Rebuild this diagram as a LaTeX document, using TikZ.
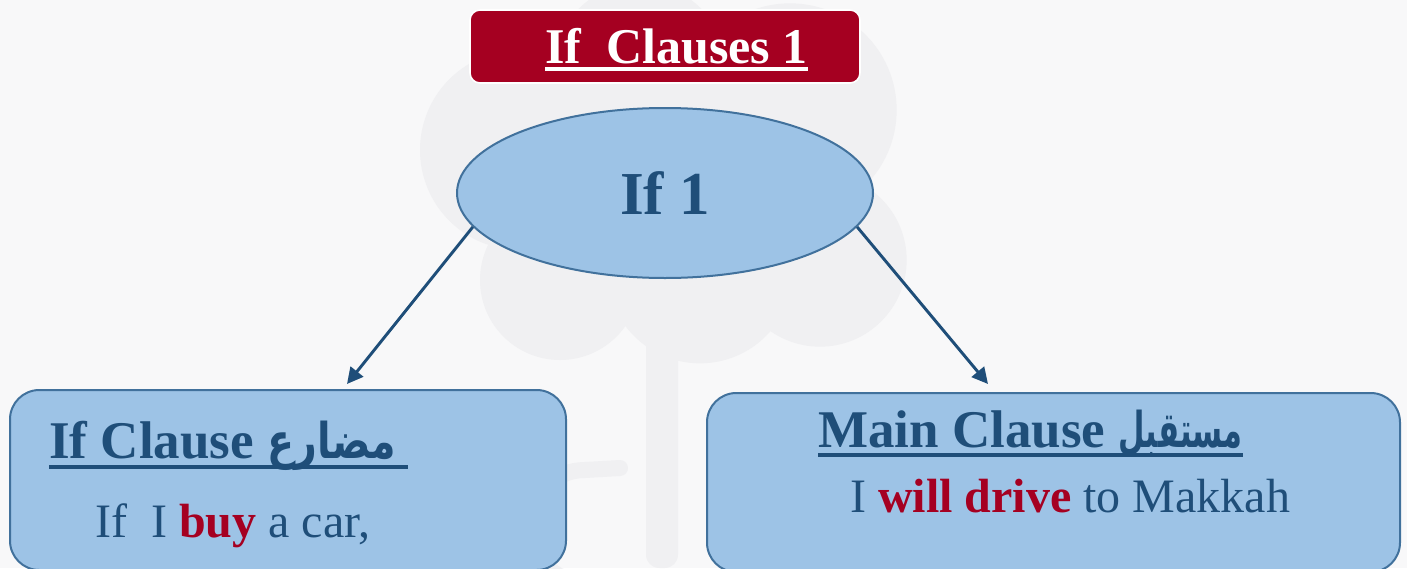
\documentclass[tikz,border=0pt]{standalone}
\usepackage{fontspec}
\usepackage{graphicx}
\setmainfont{Liberation Serif}
\newfontfamily\arabicfont[Script=Arabic]{DejaVu Sans}
\TeXXeTstate=1
\usetikzlibrary{arrows.meta,shapes.geometric}
\definecolor{bgc}{HTML}{F8F8F9}
\definecolor{wm}{HTML}{F0F0F2}
\definecolor{dblue}{HTML}{1F4E79}
\definecolor{dred}{HTML}{A50021}
\definecolor{lblue}{HTML}{9DC3E6}
\definecolor{bblue}{HTML}{41719C}
\begin{document}
\begin{tikzpicture}[x=0.75pt,y=-0.75pt,
  titlebox/.style={draw=white, line width=1.2pt, fill=dred, rounded corners=7.5pt,
    minimum width=292.5pt, minimum height=54.75pt, inner sep=0pt},
  oval/.style={ellipse, draw=bblue, line width=1.5pt, fill=lblue,
    minimum width=312pt, minimum height=127.5pt, inner sep=0pt,
    text=dblue, font=\fontsize{45.75}{50}\selectfont\bfseries},
  clausebox/.style={draw=bblue, line width=1.5pt, fill=lblue, rounded corners=22pt, inner sep=0pt},
  txt/.style={inner sep=0pt, anchor=base west, text=dblue},
  aratxt/.style={inner sep=0pt, anchor=base east, text=dblue, font=\fontsize{37}{40}\selectfont\bfseries},
  headfont/.style={font=\fontsize{39.75}{44}\selectfont\bfseries},
  bodyfont/.style={font=\fontsize{36}{40}\selectfont},
  uline/.style={line width=3pt},
  arr/.style={draw=dblue, line width=2.2pt, -{Triangle[length=12pt,width=12pt]}}
]
\useasboundingbox (0,0) rectangle (1407,568);
\clip (0,0) rectangle (1407,568);
\fill[bgc] (0,0) rectangle (1407,568);
% faint watermark
\begin{scope}[wm]
  \fill (520,150) circle[radius=75pt];
  \fill (640,70) circle[radius=65pt];
  \fill (790,110) circle[radius=80pt];
  \fill (820,260) circle[radius=65pt];
  \fill (560,280) circle[radius=60pt];
  \fill (700,270) circle[radius=70pt];
  \fill[rounded corners=10pt] (646,300) rectangle (678,568);
  \draw[line width=12pt, line cap=round] (620,468) -- (585,470) arc[start angle=90, end angle=270, radius=42pt] -- (625,582);
\end{scope}
% title
\node[titlebox] (title) at (665,46.5) {};
\node[inner sep=0pt, anchor=base west, text=white, font=\fontsize{37.5}{40}\selectfont\bfseries] (titletext) at (545,63) {If\ \ Clauses 1};
\draw[white, uline] (545,68.5) -- (808,68.5);
% central ellipse
\node[oval] (e) at (665,193) {If 1};
% clause boxes
\node[clausebox, minimum width=417pt, minimum height=135pt] (lbox) at (288,480) {};
\node[clausebox, minimum width=519.75pt, minimum height=134.25pt] (rbox) at (1053.5,482.5) {};
% left box texts
\node[txt, headfont] (lhead) at (49,458) {If Clause};
\node[aratxt] (lara) at (396,458) {\resizebox{96pt}{\height}{\arabicfont\beginR مضارع\endR}};
\draw[dblue, uline] (49,467) -- (408,467);
\node[txt, bodyfont] (lbody) at (95,537) {If\ \ I \textcolor{dred}{\bfseries buy} a car,};
% right box texts
\node[txt, headfont] (rhead) at (818,447) {Main Clause};
\node[aratxt] (rara) at (1243,447) {\resizebox{93pt}{\height}{\arabicfont\beginR مستقبل\endR}};
\draw[dblue, uline] (818,455) -- (1243,455);
\node[txt, bodyfont] (rbody) at (850,512) {I \textcolor{dred}{\bfseries will drive} to Makkah};
% arrows
\coordinate (tipL) at (347,384);
\coordinate (tipR) at (988,384);
\draw[arr] (e.190) -- (tipL);
\draw[arr] (e.-10) -- (tipR);
\end{tikzpicture}
\end{document}
